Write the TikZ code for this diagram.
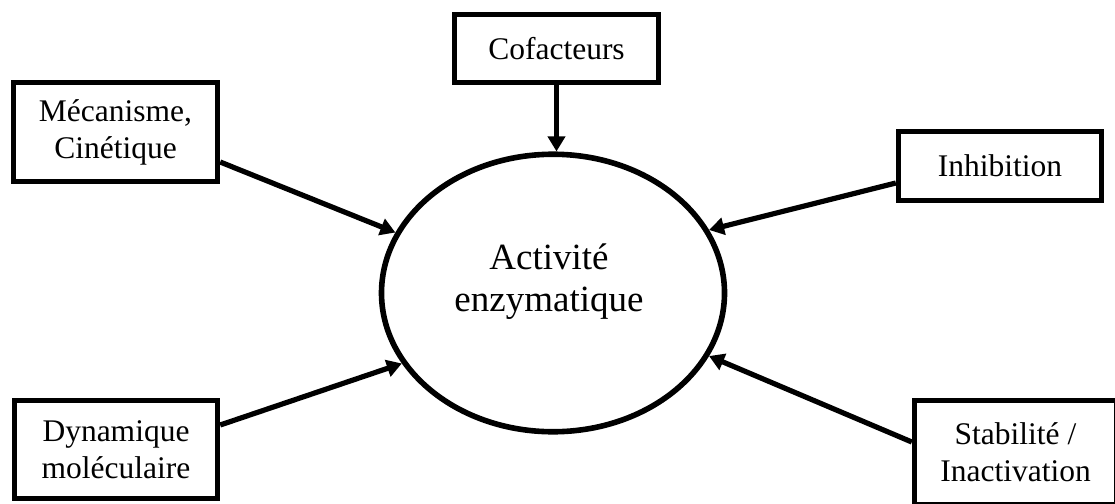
\documentclass[tikz,border=0pt]{standalone}
\usepackage{fontspec}
\setmainfont{Liberation Serif}
\usetikzlibrary{arrows.meta,shapes.geometric,calc}
\tikzset{
  boxnode/.style={draw, line width=5.4pt, inner sep=0pt, align=center,
    font=\fontsize{31.5}{37}\selectfont},
  arr/.style={line width=5.2pt, -{Triangle[length=15pt,width=17pt]}},
}
\begin{document}
\begin{tikzpicture}[x=1pt,y=-1pt]
\useasboundingbox (0,0) rectangle (1115,503);
\clip (0,0) rectangle (1115,503);
\fill[white] (0,0) rectangle (1115,503);
\node[draw, ellipse, line width=5.6pt, inner sep=0pt, minimum width=343pt, minimum height=277.5pt] (ell) at (553,293) {};
\node[align=center, font=\fontsize{37}{42}\selectfont, inner sep=0pt] (lab) at (549,282) {Activité\\enzymatique};
\node[boxnode, minimum width=204pt, minimum height=68pt] (cof) at (556.5,48.5) {Cofacteurs};
\node[boxnode, minimum width=204pt, minimum height=99pt] (mec) at (115.5,132) {Mécanisme,\\Cinétique};
\node[boxnode, minimum width=203pt, minimum height=69pt] (inh) at (1000,166) {Inhibition};
\node[boxnode, minimum width=203pt, minimum height=98pt] (dyn) at (116,449.5) {Dynamique\\moléculaire};
\node[boxnode, minimum width=202pt, minimum height=104pt] (stab) at (1015.5,452.5) {Stabilité /\\Inactivation};
\draw[arr] (cof.south) -- (cof.south |- ell.north);
\draw[arr] ($(mec.east)+(0,30)$) -- (ell.159.4);
\draw[arr] ($(inh.west)+(0,17)$) -- (ell.22.9);
\draw[arr] ($(dyn.east)+(0,-24.5)$) -- (ell.205);
\draw[arr] ($(stab.west)+(0,-10.5)$) -- (ell.338.7);
\end{tikzpicture}
\end{document}
